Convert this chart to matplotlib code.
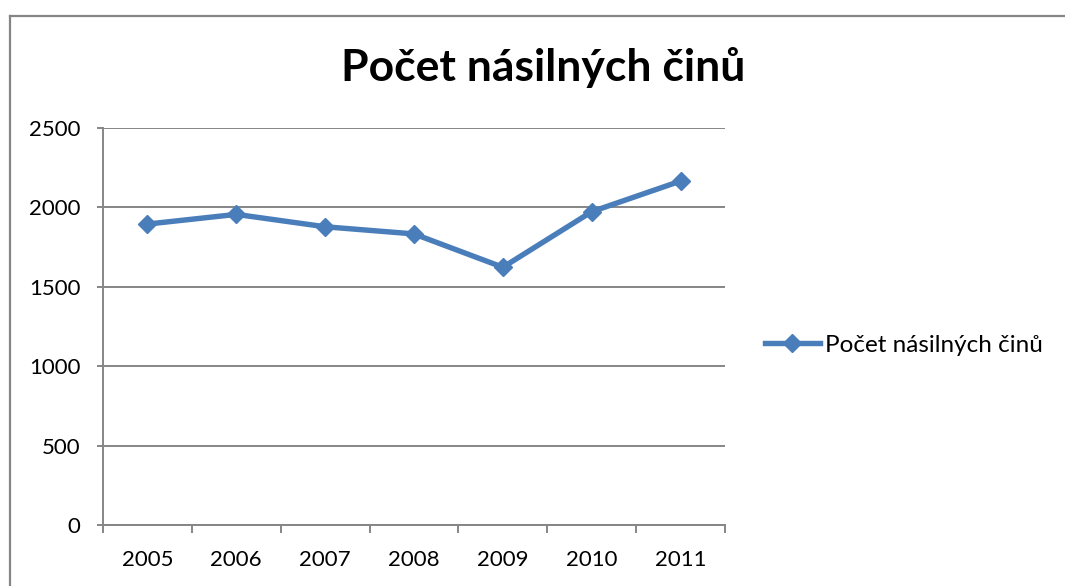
import matplotlib
matplotlib.use("Agg")
import matplotlib.pyplot as plt
from matplotlib.lines import Line2D

years = ["2005", "2006", "2007", "2008", "2009", "2010", "2011"]
values = [1895, 1956, 1878, 1833, 1623, 1973, 2166]
title = "Počet násilných činů"
series_name = "Počet násilných činů"
yticks = [0, 500, 1000, 1500, 2000, 2500]

plt.rcParams['font.family'] = ['Lato', 'DejaVu Sans']

W, H = 1065, 586
fig = plt.figure(figsize=(W / 100, H / 100), dpi=100)
ax = fig.add_axes([103 / W, 1 - 525 / H, (725 - 103) / W, (525 - 128) / H])

blue = '#4A7EBB'
gray = '#868686'
x = list(range(len(years)))
ax.plot(x, values, color=blue, lw=3.9, marker='D', markersize=9.5,
        markeredgecolor=blue, markerfacecolor=blue, label=series_name,
        solid_joinstyle='round', zorder=3)

ax.set_xlim(-0.5, len(years) - 0.5)
ax.set_ylim(0, 2500)
ax.set_yticks(yticks)
ax.set_yticklabels([str(v) for v in yticks], fontsize=16)
ax.yaxis.grid(True, color=gray, lw=1.4)
ax.set_axisbelow(True)

ax.set_xticks(x)
ax.set_xticklabels(years, fontsize=16)
ax.tick_params(axis='x', which='major', length=0, pad=18)
ax.set_xticks([i - 0.5 for i in range(len(years) + 1)], minor=True)
ax.tick_params(axis='x', which='minor', length=5.8, width=1.4, color=gray, direction='out')
ax.tick_params(axis='y', length=4.3, width=1.4, color=gray, pad=12)

for s in ['top', 'right']:
    ax.spines[s].set_visible(False)
for s in ['left', 'bottom']:
    ax.spines[s].set_color(gray)
    ax.spines[s].set_linewidth(1.4)

fig.text(543 / W, 1 - 68 / H, title, fontsize=32, fontweight='bold',
         ha='center', va='center')

# legend
handle = Line2D([0], [0], color=blue, lw=3.9, marker='D', markersize=9.5)
leg = fig.legend([handle], [series_name], loc='center left',
                 bbox_to_anchor=(765 / W, 1 - 345 / H), frameon=False,
                 fontsize=17.5, handlelength=2.26, handletextpad=0.2,
                 borderpad=0, borderaxespad=0)

# outer border
fig.add_artist(Line2D([9.5 / W, 1.0], [1 - 16 / H, 1 - 16 / H], color=gray, lw=1.6,
                      transform=fig.transFigure))
fig.add_artist(Line2D([9.5 / W, 9.5 / W], [1 - 16 / H, 0], color=gray, lw=1.6,
                      transform=fig.transFigure))

fig.savefig("out.png", dpi=100)
